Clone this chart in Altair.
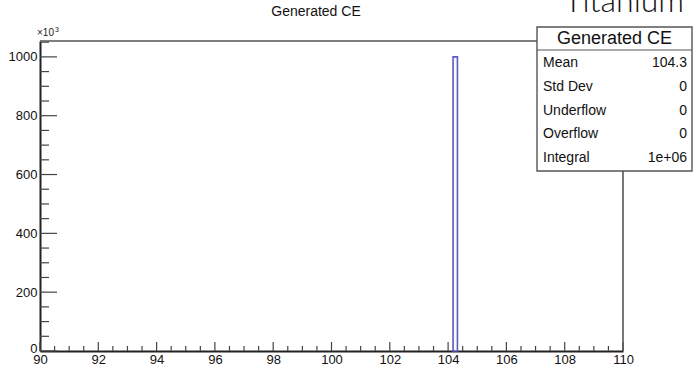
import altair as alt
import pandas as pd

# ---- data ----
bin_lo = [104.17]
bin_hi = [104.32]
counts_k = [1000.0]          # entries, in units of 10^3

x_major = [90, 92, 94, 96, 98, 100, 102, 104, 106, 108, 110]
x_minor = [90 + 0.5 * i for i in range(41) if (i % 4) != 0]
y_major = [0, 200, 400, 600, 800, 1000]
y_minor = [v for v in range(50, 1051, 50) if v % 200 != 0]

stat_names = ["Mean", "Std Dev", "Underflow", "Overflow", "Integral"]
stat_values = ["104.3", "0", "0", "0", "1e+06"]

W, H = 583, 310
FONT = "Liberation Sans, Arial, Helvetica, sans-serif"
xs = alt.Scale(domain=[90, 110], nice=False, zero=False)
ys = alt.Scale(domain=[0, 1054], nice=False, zero=True)

hist = pd.DataFrame({"lo": bin_lo, "hi": bin_hi, "n": counts_k, "z": [0.0]})

bar = alt.Chart(hist).mark_rect(fill="#fbfbff", stroke="#5a5ac4", strokeWidth=1.6).encode(
    x=alt.X("lo:Q", scale=xs, axis=alt.Axis(
        values=x_major, title=None, domain=True, domainColor="#222", domainWidth=2,
        ticks=False, labelFont=FONT, labelFontSize=13, labelColor="#111",
        labelPadding=2, grid=False, labelFlush=False, format="d")),
    x2="hi:Q",
    y=alt.Y("n:Q", scale=ys, axis=alt.Axis(
        values=y_major, title=None, domain=True, domainColor="#222", domainWidth=2,
        ticks=False, labelFont=FONT, labelFontSize=13, labelColor="#111",
        labelPadding=3, grid=False, labelFlush=True, labelFlushOffset=4, format="d")),
    y2="z:Q",
)

xmaj = alt.Chart(pd.DataFrame({"v": x_major})).mark_rule(color="#444", strokeWidth=1.2).encode(
    x=alt.X("v:Q", scale=xs), y=alt.value(H), y2=alt.value(H - 9))
xmin = alt.Chart(pd.DataFrame({"v": x_minor})).mark_rule(color="#444", strokeWidth=1.2).encode(
    x=alt.X("v:Q", scale=xs), y=alt.value(H), y2=alt.value(H - 5))
ymaj = alt.Chart(pd.DataFrame({"v": y_major})).mark_rule(color="#444", strokeWidth=1.2).encode(
    y=alt.Y("v:Q", scale=ys), x=alt.value(0), x2=alt.value(17))
ymin = alt.Chart(pd.DataFrame({"v": y_minor})).mark_rule(color="#444", strokeWidth=1.2).encode(
    y=alt.Y("v:Q", scale=ys), x=alt.value(0), x2=alt.value(9))

one = pd.DataFrame({"a": [0]})
frame_top = alt.Chart(one).mark_rule(color="#555", strokeWidth=1.6).encode(
    x=alt.value(0), x2=alt.value(W), y=alt.value(0))
frame_right = alt.Chart(one).mark_rule(color="#555", strokeWidth=1.6).encode(
    x=alt.value(W), y=alt.value(0), y2=alt.value(H))

box = alt.Chart(one).mark_rect(fill="white", stroke="#555", strokeWidth=1.4).encode(
    x=alt.value(497), x2=alt.value(652), y=alt.value(-14), y2=alt.value(130))
sep = alt.Chart(one).mark_rule(color="#555", strokeWidth=1.2).encode(
    x=alt.value(497), x2=alt.value(652), y=alt.value(9))
header = alt.Chart(one).mark_text(font=FONT, fontSize=18, color="#111", align="center",
                                  baseline="middle").encode(
    x=alt.value(574.5), y=alt.value(-2), text=alt.value("Generated CE"))

layers = [bar, xmaj, xmin, ymaj, ymin, frame_top, frame_right, box, sep, header]
for i, (nm, val) in enumerate(zip(stat_names, stat_values)):
    yy = 22 + i * 23.8
    df = pd.DataFrame({"nm": [nm], "val": [val]})
    layers.append(alt.Chart(df).mark_text(font=FONT, fontSize=14, color="#111", align="left",
                                          baseline="middle").encode(
        x=alt.value(503), y=alt.value(yy), text="nm:N"))
    layers.append(alt.Chart(df).mark_text(font=FONT, fontSize=14, color="#111", align="right",
                                          baseline="middle").encode(
        x=alt.value(647), y=alt.value(yy), text="val:N"))

title = alt.Chart(one).mark_text(font=FONT, fontSize=14, color="#111", align="center",
                                 baseline="middle").encode(
    x=alt.value(276), y=alt.value(-29), text=alt.value("Generated CE"))
exp1 = alt.Chart(one).mark_text(font=FONT, fontSize=10, color="#222", align="left",
                                baseline="alphabetic").encode(
    x=alt.value(-3), y=alt.value(-5), text=alt.value("×10"))
exp2 = alt.Chart(one).mark_text(font=FONT, fontSize=7, color="#222", align="left",
                                baseline="alphabetic").encode(
    x=alt.value(15), y=alt.value(-9), text=alt.value("3"))
titanium = alt.Chart(one).mark_text(font="Lato", fontWeight=300, fontSize=32, color="#111",
                                    align="left", baseline="alphabetic").encode(
    x=alt.value(524), y=alt.value(-29), text=alt.value("Titanium"))

layers += [title, exp1, exp2, titanium]

chart = alt.layer(*layers).properties(
    width=W, height=H,
    autosize=alt.AutoSizeParams(type="none"),
    padding={"left": 40, "top": 41, "right": 70, "bottom": 18},
    background="white",
).configure_view(stroke=None)

chart.save("out.html", embed_options={"renderer": "svg", "actions": False})
